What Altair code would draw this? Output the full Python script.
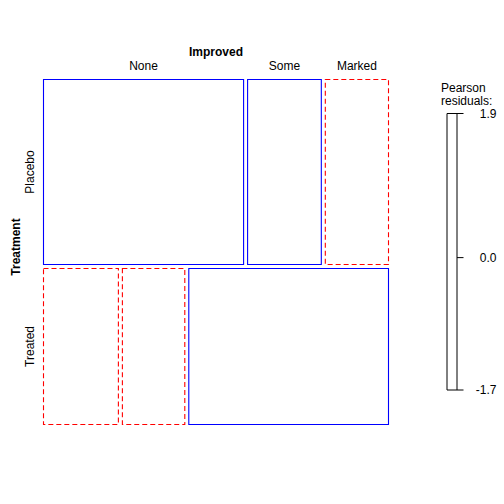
import altair as alt
import pandas as pd
import numpy as np

# Arthritis (female subset): Treatment x Improved
treatment = ["Placebo", "Treated"]
improved = ["None", "Some", "Marked"]
placebo_counts = [19, 7, 6]
treated_counts = [6, 5, 16]

counts = np.array([placebo_counts, treated_counts], dtype=float)
N = counts.sum()
row_tot = counts.sum(axis=1)
col_tot = counts.sum(axis=0)
expected = np.outer(row_tot, col_tot) / N
resid = (counts - expected) / np.sqrt(expected)

GAP = 4 / 345  # spacing between tiles, fraction of mosaic size
FONT = "Liberation Sans"

rows = []
y0 = 0.0
for i, t in enumerate(treatment):
    h = (1 - GAP) * row_tot[i] / N
    x0 = 0.0
    for j, imp in enumerate(improved):
        w = (1 - 2 * GAP) * counts[i, j] / row_tot[i]
        rows.append(dict(Treatment=t, Improved=imp, x=x0, x2=x0 + w, y=y0, y2=y0 + h,
                         xm=x0 + w / 2, ym=y0 + h / 2, resid=float(resid[i, j]),
                         sign="pos" if resid[i, j] > 0 else "neg"))
        x0 += w + GAP
    y0 += h + GAP
df = pd.DataFrame(rows)

xs = alt.Scale(domain=[0, 1], nice=False, zero=False)
ys = alt.Scale(domain=[0, 1], nice=False, zero=False, reverse=True)

base = alt.Chart(df)
pos = base.transform_filter(alt.datum.sign == "pos").mark_rect(
    fill="white", stroke="#0000FF", strokeWidth=1.1
).encode(
    x=alt.X("x:Q", scale=xs, axis=None), x2="x2:Q",
    y=alt.Y("y:Q", scale=ys, axis=None), y2="y2:Q",
)
neg = base.transform_filter(alt.datum.sign == "neg").mark_rect(
    fill="white", stroke="#FF0000", strokeWidth=1.1, strokeDash=[5, 3]
).encode(
    x=alt.X("x:Q", scale=xs, axis=None), x2="x2:Q",
    y=alt.Y("y:Q", scale=ys, axis=None), y2="y2:Q",
)

col_labels = base.transform_filter(alt.datum.Treatment == treatment[0]).mark_text(
    font=FONT, fontSize=12, baseline="alphabetic", align="center", color="black"
).encode(x=alt.X("xm:Q", scale=xs, axis=None), y=alt.value(-9.5), text="Improved:N")

row_labels = base.transform_filter(alt.datum.Improved == improved[0]).mark_text(
    font=FONT, fontSize=12, baseline="middle", align="center", angle=270, color="black"
).encode(x=alt.value(-14), y=alt.Y("ym:Q", scale=ys, axis=None), text="Treatment:N")

one = pd.DataFrame({"a": [0]})
improved_title = alt.Chart(one).mark_text(
    text="Improved", font=FONT, fontSize=12, fontWeight="bold",
    baseline="alphabetic", align="center", color="black"
).encode(x=alt.datum(0.5, scale=xs), y=alt.value(-23.5))

treatment_title = alt.Chart(one).mark_text(
    text="Treatment", font=FONT, fontSize=12, fontWeight="bold",
    baseline="middle", align="center", angle=270, color="black"
).encode(x=alt.value(-27.5), y=alt.value(167.5))

mosaic = alt.layer(pos, neg, col_labels, row_labels, improved_title, treatment_title)

# Legend (Pearson residuals)
rmin, rmax = float(resid.min()), float(resid.max())
leg_vals = [rmax, 0.0, rmin]
leg_labels = [f"{v:.1f}" for v in leg_vals]
leg_df = pd.DataFrame({"v": leg_vals, "lab": leg_labels})
bar_df = pd.DataFrame({"lo": [rmin], "hi": [rmax]})
ls = alt.Scale(domain=[rmin, rmax], range=[310.5, 34], nice=False, zero=False)

leg_bar = alt.Chart(bar_df).mark_rect(fill="white", stroke="black", strokeWidth=1).encode(
    x=alt.value(403.5), x2=alt.value(413.5),
    y=alt.Y("lo:Q", scale=ls, axis=None), y2="hi:Q",
)
leg_ticks = alt.Chart(leg_df).mark_rule(color="black", strokeWidth=1).encode(
    x=alt.value(413.5), x2=alt.value(420),
    y=alt.Y("v:Q", scale=ls, axis=None),
)
leg_text = alt.Chart(leg_df).mark_text(
    font=FONT, fontSize=12, align="right", baseline="middle", color="black"
).encode(x=alt.value(453), y=alt.Y("v:Q", scale=ls, axis=None), text="lab:N")
leg_title = alt.Chart(one).mark_text(
    text=["Pearson", "residuals:"], font=FONT, fontSize=12, lineHeight=12.5,
    align="left", baseline="alphabetic", color="black"
).encode(x=alt.value(397.5), y=alt.value(12.5))

legend = alt.layer(leg_bar, leg_ticks, leg_text, leg_title)

chart = alt.layer(mosaic, legend).resolve_scale(y="independent").properties(
    width=345, height=345,
    autosize=alt.AutoSizeParams(type="none"),
    padding={"left": 43.5, "top": 79.5, "right": 115.5, "bottom": 79.5},
    background="white",
).configure_view(stroke=None)

chart.save("out.html", embed_options={"renderer": "svg", "actions": False})
